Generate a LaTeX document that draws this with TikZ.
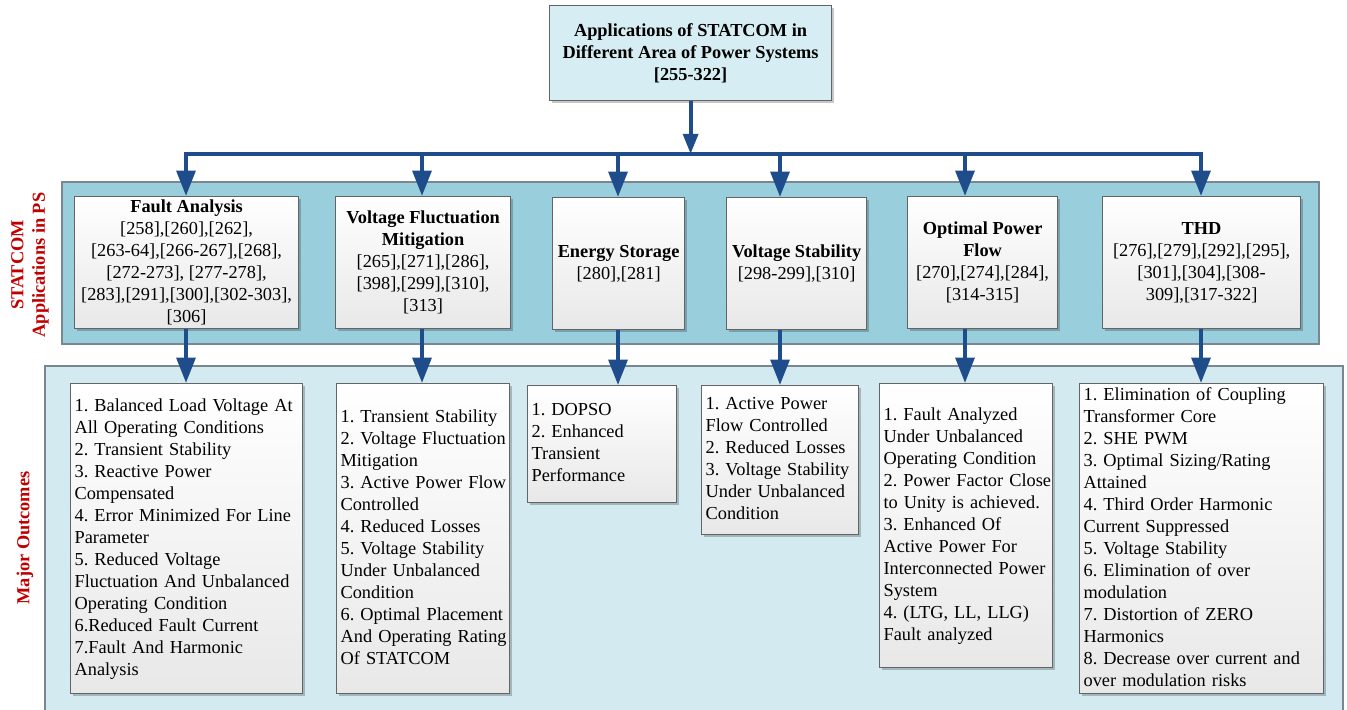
\documentclass[tikz,border=0pt]{standalone}
\usepackage{fontspec}
\setmainfont{Liberation Serif}
\usetikzlibrary{arrows.meta,shadows}
\frenchspacing

\definecolor{titlefill}{RGB}{214,238,243}
\definecolor{bandfill}{RGB}{153,207,221}
\definecolor{outfill}{RGB}{210,234,240}
\definecolor{flowblue}{RGB}{31,76,138}
\definecolor{edgegray}{RGB}{100,100,100}
\definecolor{bandedge}{RGB}{120,135,145}
\definecolor{labelred}{RGB}{192,0,0}

\begin{document}
\begin{tikzpicture}[x=0.75pt,y=-0.75pt,
  every node/.style={font=\fontsize{13.75}{16.5}\selectfont, text=black},
  boxshadow/.style={drop shadow={shadow xshift=1.6pt,shadow yshift=-1.6pt,fill=black,opacity=0.22}},
  titlebox/.style={draw=edgegray, line width=0.9pt, fill=titlefill, anchor=north west,
    align=center, inner sep=0pt, boxshadow},
  appbox/.style={draw=edgegray, line width=0.9pt, top color=white, bottom color=black!9,
    anchor=north west, align=center, inner sep=0pt, minimum height=99pt, boxshadow},
  outbox/.style={draw=edgegray, line width=0.9pt, top color=white, bottom color=black!9,
    anchor=north west, inner xsep=3pt, inner ysep=0pt, align=left, boxshadow},
  flow/.style={draw=flowblue, line width=3pt, -{Triangle[width=14pt,length=19pt]}},
  busline/.style={draw=flowblue, line width=3pt, line cap=rect},
  sidelabel/.style={rotate=90, font=\fontsize{13.75}{16}\selectfont\bfseries,
    text=labelred, align=center}
]
\useasboundingbox (0,0) rectangle (1347,710);

% background bands
\draw[fill=bandfill, draw=bandedge, line width=0.8pt] (62,182) rectangle (1319,344);
\draw[fill=outfill, draw=bandedge, line width=0.8pt] (45,366) rectangle (1343,716);

% side captions
\node[sidelabel] (lblapp) at (30,265) {STATCOM\\Applications in PS};
\node[sidelabel] (lblout) at (25,538) {Major Outcomes};

% root
\node[titlebox, minimum width=211.5pt, minimum height=71.25pt] (title) at (549,5)
  {\bfseries Applications of STATCOM in\\\bfseries Different Area of Power Systems\\\bfseries{}[255-322]};

% application areas
\node[appbox, minimum width=168pt] (fa) at (74,196)
  {\textbf{Fault Analysis}\\{}[258],[260],[262],\\{}[263-64],[266-267],[268],\\{}[272-273], [277-278],\\{}[283],[291],[300],[302-303],\\{}[306]};
\node[appbox, minimum width=131.25pt] (vf) at (335,196)
  {\textbf{Voltage Fluctuation}\\\textbf{Mitigation}\\{}[265],[271],[286],\\{}[398],[299],[310],\\{}[313]};
\node[appbox, minimum width=99pt] (es) at (552,197)
  {\textbf{Energy Storage}\\{}[280],[281]};
\node[appbox, minimum width=105pt] (vs) at (726,197)
  {\textbf{Voltage Stability}\\{}[298-299],[310]};
\node[appbox, minimum width=112.5pt] (opf) at (907,196)
  {\textbf{Optimal Power}\\\textbf{Flow}\\{}[270],[274],[284],\\{}[314-315]};
\node[appbox, minimum width=148.5pt] (thd) at (1102,196)
  {\textbf{THD}\\{}[276],[279],[292],[295],\\{}[301],[304],[308-\\309],[317-322]};

% outcomes
\node[outbox, minimum width=174pt, minimum height=232.5pt, text width=168pt] (o1) at (70,383)
  {\begin{tabular}{@{}l@{}}1. Balanced Load Voltage At\\All Operating Conditions\\2. Transient Stability\\3. Reactive Power\\Compensated\\4. Error Minimized For Line\\Parameter\\5. Reduced Voltage\\Fluctuation And Unbalanced\\Operating Condition\\6.Reduced Fault Current\\7.Fault And Harmonic\\Analysis\end{tabular}};
\node[outbox, minimum width=129.75pt, minimum height=232.5pt, text width=123.75pt] (o2) at (336,383)
  {\begin{tabular}{@{}l@{}}1. Transient Stability\\2. Voltage Fluctuation\\Mitigation\\3. Active Power Flow\\Controlled\\4. Reduced Losses\\5. Voltage Stability\\Under Unbalanced\\Condition\\6. Optimal Placement\\And Operating Rating\\Of STATCOM\end{tabular}};
\node[outbox, minimum width=111.75pt, minimum height=87.75pt, text width=105.75pt] (o3) at (527,385)
  {\begin{tabular}{@{}l@{}}1. DOPSO\\2. Enhanced\\Transient\\Performance\end{tabular}};
\node[outbox, minimum width=117.75pt, minimum height=111.75pt, text width=111.75pt] (o4) at (701,385)
  {\begin{tabular}{@{}l@{}}1. Active Power\\Flow Controlled\\2. Reduced Losses\\3. Voltage Stability\\Under Unbalanced\\Condition\end{tabular}};
\node[outbox, minimum width=129.75pt, minimum height=213pt, text width=123.75pt] (o5) at (879,383)
  {\begin{tabular}{@{}l@{}}1. Fault Analyzed\\Under Unbalanced\\Operating Condition\\2. Power Factor Close\\to Unity is achieved.\\3. Enhanced Of\\Active Power For\\Interconnected Power\\System\\4. (LTG, LL, LLG)\\Fault analyzed\end{tabular}};
\node[outbox, minimum width=183pt, minimum height=232.5pt, text width=177pt] (o6) at (1079,383)
  {\begin{tabular}{@{}l@{}}1. Elimination of Coupling\\Transformer Core\\2. SHE PWM\\3. Optimal Sizing/Rating\\Attained\\4. Third Order Harmonic\\Current Suppressed\\5. Voltage Stability\\6. Elimination of over\\modulation\\7. Distortion of ZERO\\Harmonics\\8. Decrease over current and\\over modulation risks\end{tabular}};

% connector columns and distribution bus
\coordinate (bus) at (0,154);
\coordinate (k1) at (186,0);
\coordinate (k2) at (422,0);
\coordinate (k3) at (618,0);
\coordinate (k4) at (780,0);
\coordinate (k5) at (965,0);
\coordinate (k6) at (1201,0);

\draw[flow, -{Triangle[width=11pt,length=15pt]}] (title.south) -- (title.south |- bus);
\draw[busline] (k1 |- bus) -- (k6 |- bus);
\foreach \kx/\bx/\ox in {k1/fa/o1, k2/vf/o2, k3/es/o3, k4/vs/o4, k5/opf/o5, k6/thd/o6}{
  \draw[flow] (\kx |- bus) -- (\kx |- \bx.north);
  \draw[flow] (\kx |- \bx.south) -- (\kx |- \ox.north);
}
\end{tikzpicture}
\end{document}
